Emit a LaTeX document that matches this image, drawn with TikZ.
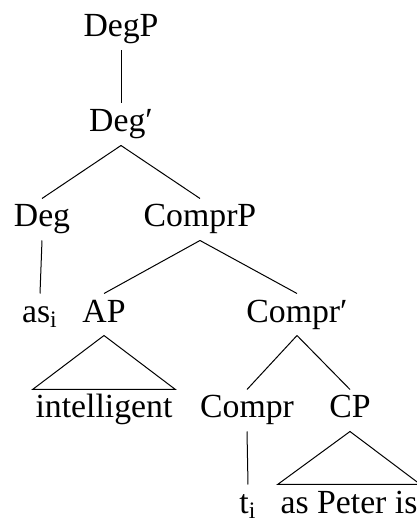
\documentclass[tikz,border=0pt]{standalone}
\usepackage{fontspec}
\setmainfont{Liberation Serif}
\usepackage{tikz}

\begin{document}
\begin{tikzpicture}[
  x=0.4pt,y=0.4pt,
  font=\fontsize{13.5}{16}\selectfont,
  cat/.style={anchor=base,text height=9pt,text depth=3pt,inner xsep=1pt,inner ysep=2.2pt},
  br/.style={thin}]
  \useasboundingbox (0,0) rectangle (417,521);
  % phrase levels
  \node[cat] (degp) at (121,484) {DegP};
  \node[cat] (degbar) at (121,389) {Deg′};
  \node[cat] (deg) at (42,294) {Deg};
  \node[cat] (comprp) at (200,294) {ComprP};
  \node[cat] (as) at (40,199) {as\textsubscript{i}};
  \node[cat] (ap) at (104,199) {AP};
  \node[cat] (comprbar) at (297,199) {Compr′};
  \node[cat] (intel) at (104,103) {intelligent};
  \node[cat] (compr) at (247,103) {Compr};
  \node[cat] (cp) at (350,103) {CP};
  \node[cat] (t) at (248,8) {t\textsubscript{i}};
  \node[cat] (peter) at (349,8) {as Peter is};
  % branches
  \draw[br] (degp.south)--(degbar.north);
  \draw[br] (degbar.south)--(deg.north);
  \draw[br] (degbar.south)--(comprp.north);
  \draw[br] (deg.south)--(as.north);
  \draw[br] (comprp.south)--(ap.north);
  \draw[br] (comprp.south)--(comprbar.north);
  \draw[br] (ap.south)--(intel.north west)--(intel.north east)--cycle;
  \draw[br] (comprbar.south)--(compr.north);
  \draw[br] (comprbar.south)--(cp.north);
  \draw[br] (compr.south)--(t.north);
  \draw[br] (cp.south)--(peter.north west)--(peter.north east)--cycle;
\end{tikzpicture}
\end{document}
